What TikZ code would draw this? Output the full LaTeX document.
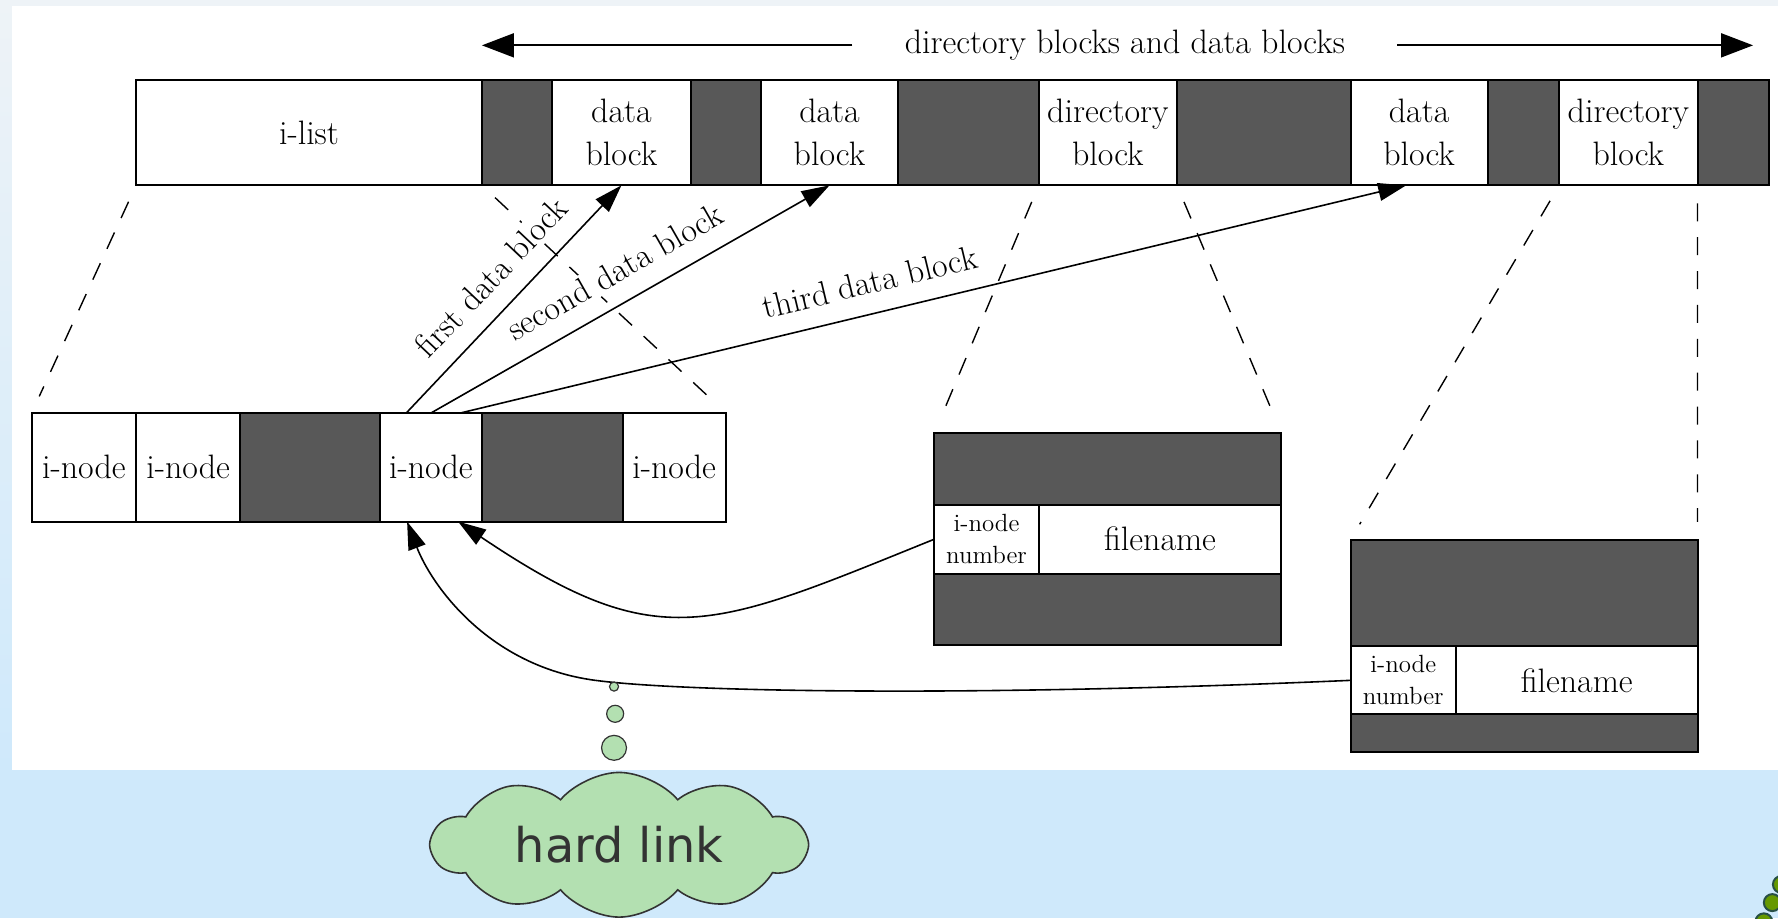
\documentclass[tikz,border=0pt]{standalone}
\usepackage{fontspec}
\usetikzlibrary{positioning,arrows.meta,shapes.symbols}
\newfontfamily\cloudfont{DejaVu Sans}

\definecolor{paleblue}{RGB}{207,233,251}
\definecolor{palegrey}{RGB}{238,243,247}
\definecolor{blockgray}{RGB}{88,88,88}
\definecolor{cloudgreen}{RGB}{179,224,177}
\definecolor{cloudline}{RGB}{51,51,51}
\definecolor{olivegreen}{RGB}{102,153,0}
\definecolor{olivedark}{RGB}{40,80,70}

\tikzset{
  cell/.style={draw=black, line width=1pt, fill=white, inner sep=0pt, outer sep=0pt,
    align=center, font=\fontsize{17}{21.6}\selectfont},
  usedcell/.style={cell, fill=blockgray},
  smallcell/.style={cell, font=\fontsize{12.5}{16}\selectfont},
  ptr/.style={-{Triangle[length=14pt,width=9pt]}, line width=0.8pt},
  spanarrow/.style={-{Triangle[length=16pt,width=12pt]}, line width=0.9pt},
  guide/.style={dash pattern=on 9pt off 8pt, line width=0.7pt, shorten <=9pt, shorten >=9pt},
  lbl/.style={font=\fontsize{17}{21.6}\selectfont},
  ptrlbl/.style={lbl, fill=white, inner sep=1.5pt, sloped, above=8pt},
  bubble/.style={fill=cloudgreen, draw=cloudline, line width=0.6pt}
}

\begin{document}
\begin{tikzpicture}
    \useasboundingbox (0,0) rectangle (31.36,16.2);

    % Page background and scanned sheet
    \fill[paleblue] (0,0) rectangle (31.36,16.2);
    \shade[top color=palegrey, bottom color=paleblue] (0,2.62) rectangle (31.36,16.2);
    \fill[white] (0.22,2.62) rectangle (31.36,16.1);

    % Span of the directory and data blocks
    \node[lbl, inner xsep=0.92cm, inner ysep=0pt] (span) at (19.84,15.4) {directory blocks and data blocks};
    \coordinate (spanleft) at (8.5,15.4);
    \coordinate (spanright) at (30.92,15.4);
    \draw[spanarrow] (span) -- (spanleft);
    \draw[spanarrow] (span) -- (spanright);

    % i-list followed by the block area
    \node[cell, anchor=north west, minimum width=6.10cm, minimum height=1.86cm] (ilist) at (2.40,14.79) {i-list};
    \node[usedcell, minimum width=1.24cm, minimum height=1.86cm, right=0pt of ilist] (g1) {};
    \node[cell, minimum width=2.44cm, minimum height=1.86cm, right=0pt of g1] (data1) {data\\block};
    \node[usedcell, minimum width=1.24cm, minimum height=1.86cm, right=0pt of data1] (g2) {};
    \node[cell, minimum width=2.42cm, minimum height=1.86cm, right=0pt of g2] (data2) {data\\block};
    \node[usedcell, minimum width=2.48cm, minimum height=1.86cm, right=0pt of data2] (g3) {};
    \node[cell, minimum width=2.44cm, minimum height=1.86cm, right=0pt of g3] (dir1) {directory\\block};
    \node[usedcell, minimum width=3.06cm, minimum height=1.86cm, right=0pt of dir1] (g4) {};
    \node[cell, minimum width=2.42cm, minimum height=1.86cm, right=0pt of g4] (data3) {data\\block};
    \node[usedcell, minimum width=1.26cm, minimum height=1.86cm, right=0pt of data3] (g5) {};
    \node[cell, minimum width=2.44cm, minimum height=1.86cm, right=0pt of g5] (dir2) {directory\\block};
    \node[usedcell, minimum width=1.26cm, minimum height=1.86cm, right=0pt of dir2] (g6) {};

    % i-list, enlarged
    \node[cell, anchor=north west, minimum width=1.84cm, minimum height=1.92cm] (in1) at (0.56,8.92) {i-node};
    \node[cell, minimum width=1.84cm, minimum height=1.92cm, right=0pt of in1] (in2) {i-node};
    \node[usedcell, minimum width=2.46cm, minimum height=1.92cm, right=0pt of in2] (ig1) {};
    \node[cell, minimum width=1.80cm, minimum height=1.92cm, right=0pt of ig1] (in3) {i-node};
    \node[usedcell, minimum width=2.48cm, minimum height=1.92cm, right=0pt of in3] (ig2) {};
    \node[cell, minimum width=1.82cm, minimum height=1.92cm, right=0pt of ig2] (in4) {i-node};

    % First directory block, enlarged
    \node[usedcell, anchor=north west, minimum width=6.12cm, minimum height=1.26cm] (dtop1) at (16.48,8.56) {};
    \node[smallcell, minimum width=1.84cm, minimum height=1.22cm, below right=0pt and 0pt of dtop1.south west] (num1) {i-node\\number};
    \node[cell, minimum width=4.28cm, minimum height=1.22cm, right=0pt of num1] (fname1) {filename};
    \node[usedcell, minimum width=6.12cm, minimum height=1.26cm, below right=0pt and 0pt of num1.south west] (dbot1) {};

    % Second directory block, enlarged
    \node[usedcell, anchor=north west, minimum width=6.12cm, minimum height=1.88cm] (dtop2) at (23.82,6.68) {};
    \node[smallcell, minimum width=1.86cm, minimum height=1.20cm, below right=0pt and 0pt of dtop2.south west] (num2) {i-node\\number};
    \node[cell, minimum width=4.26cm, minimum height=1.20cm, right=0pt of num2] (fname2) {filename};
    \node[usedcell, minimum width=6.12cm, minimum height=0.66cm, below right=0pt and 0pt of num2.south west] (dbot2) {};

    % Zoom guides
    \draw[guide] (ilist.south west) -- (in1.north west);
    \draw[guide] (ilist.south east) -- (in4.north east);
    \draw[guide] (dir1.south west) -- (dtop1.north west);
    \draw[guide] (dir1.south east) -- (dtop1.north east);
    \draw[guide] (dir2.south west) -- (dtop2.north west);
    \draw[guide] (dir2.south east) -- (dtop2.north east);

    % Block pointers of the i-node (labels blank out the guide behind them)
    \draw[ptr] ([xshift=0.54cm]in3.north) -- ([xshift=-0.23cm]data3.south)
        node[ptrlbl, pos=0.44] (lbthird) {third data block};
    \draw[ptr] ([xshift=0.01cm]in3.north) -- (data2.south)
        node[ptrlbl, midway] (lbsecond) {second data block};
    \draw[ptr] ([xshift=-0.43cm]in3.north) -- (data1.south)
        node[ptrlbl, midway] (lbfirst) {first data block};

    % Two directory entries pointing to the same i-node
    \draw[ptr] (num1.west) to[out=202, in=-34, looseness=1.3] ([xshift=0.48cm]in3.south);
    \draw[ptr] (num2.west) .. controls (17,3.9) and (12,4.0) .. (10.5,4.2)
        .. controls (8.6,4.45) and (7.6,5.9) .. ([xshift=-0.42cm]in3.south);

    % Thought bubble
    \filldraw[bubble] (10.83,4.09) circle (0.08);
    \filldraw[bubble] (10.85,3.61) circle (0.15);
    \filldraw[bubble] (10.83,3.01) circle (0.22);
    \node[cloud, cloud puffs=10, cloud puff arc=100, aspect=3, minimum width=6.6cm, minimum height=2.1cm,
        fill=cloudgreen, draw=cloudline, line width=0.8pt, text=cloudline,
        font=\cloudfont\fontsize{24}{28}\selectfont] (hardlink) at (10.92,1.3) {hard link};

    % Corner decoration
    \begin{scope}
      \clip (0,0) rectangle (31.36,16.2);
      \foreach \cx/\cy in {31.42/0.60, 31.26/0.28, 31.11/-0.06}
        \filldraw[fill=olivegreen, draw=olivedark, line width=1pt] (\cx,\cy) circle (0.15);
    \end{scope}
\end{tikzpicture}
\end{document}
